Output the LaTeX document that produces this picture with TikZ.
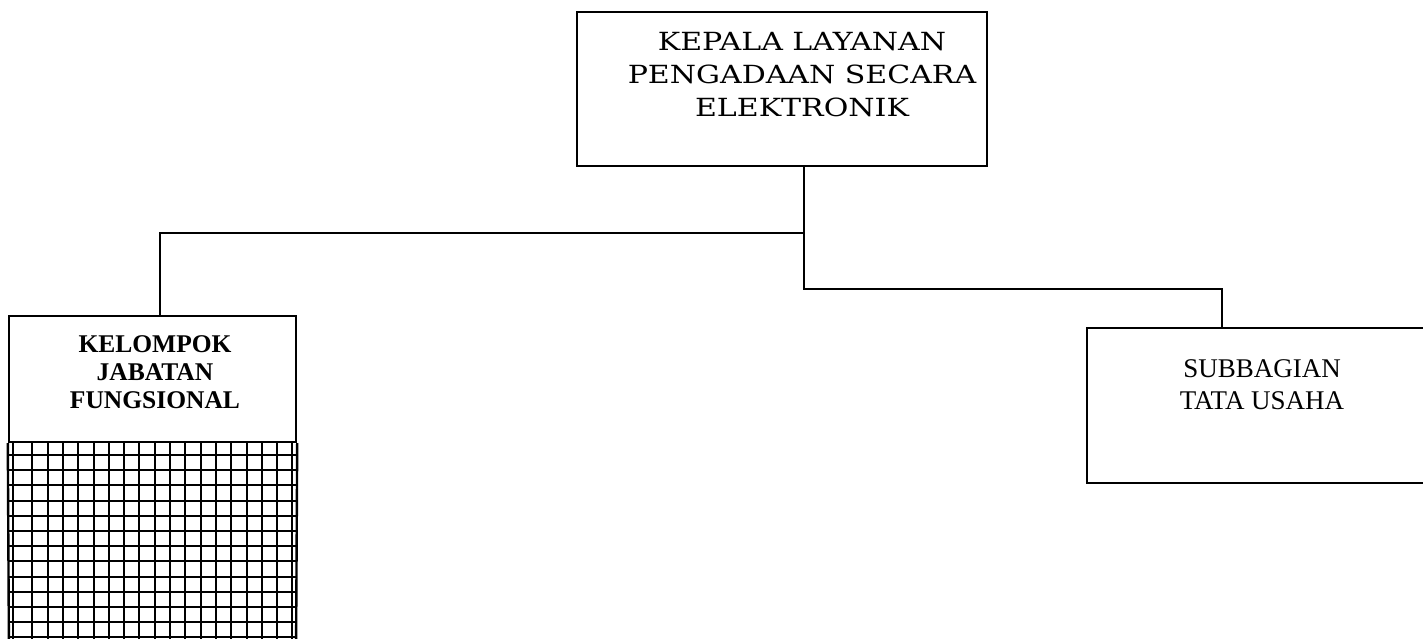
\documentclass[tikz,border=0pt]{standalone}
\usepackage{fontspec}
\setmainfont{Liberation Serif}
\newfontfamily\topfont[FakeStretch=1.2]{DejaVu Serif}
\begin{document}
\begin{tikzpicture}[x=1pt,y=-1pt,
  box/.style={draw,line width=2.4pt,inner sep=0pt,rectangle},
  conn/.style={line width=2.4pt},
  gridline/.style={line width=2pt},
  txt/.style={inner sep=0pt,align=center,anchor=north}]
\clip (0,0) rectangle (1423,639);
\fill[white] (0,0) rectangle (1423,639);
% top box
\node[box,minimum width=410pt,minimum height=154pt] (top) at (782,89) {};
\node[txt,font=\topfont\fontsize{25}{33}\selectfont] (toptxt) at (802,32)
  {KEPALA LAYANAN\\PENGADAAN SECARA\\ELEKTRONIK};
% kelompok box
\node[box,minimum width=287pt,minimum height=126pt] (kel) at (152.5,379) {};
\draw[line width=2.4pt] (kel.south west) -- (9,660) (kel.south east) -- (296,660);
\begin{scope}
  \clip (9,442) rectangle (296,660);
  \foreach \i in {0,...,17} \draw[gridline] ({round(32.3+15.3*\i)},442) -- ({round(32.3+15.3*\i)},660);
  \draw[gridline] (13,442) -- (13,660);
  \foreach \j in {0,...,13} \draw[gridline] (9,{round(455+15.2*\j)}) -- (296,{round(455+15.2*\j)});
\end{scope}
\node[txt,font=\bfseries\fontsize{25.5}{28}\selectfont] (keltxt) at (155,335)
  {KELOMPOK\\JABATAN\\FUNGSIONAL};
% subbagian box
\node[box,minimum width=353pt,minimum height=155pt] (sub) at (1263.5,405.5) {};
\node[txt,font=\fontsize{27}{32}\selectfont] (subtxt) at (1262,359.5)
  {SUBBAGIAN\\TATA USAHA};
% connectors
\coordinate (j1) at (804,233);
\coordinate (j2) at (804,289);
\draw[conn] (top.south -| j1) -- (j2) -| (sub.north -| 1222,0);
\draw[conn] (j1) -| (kel.north -| 160,0);
\end{tikzpicture}
\end{document}
